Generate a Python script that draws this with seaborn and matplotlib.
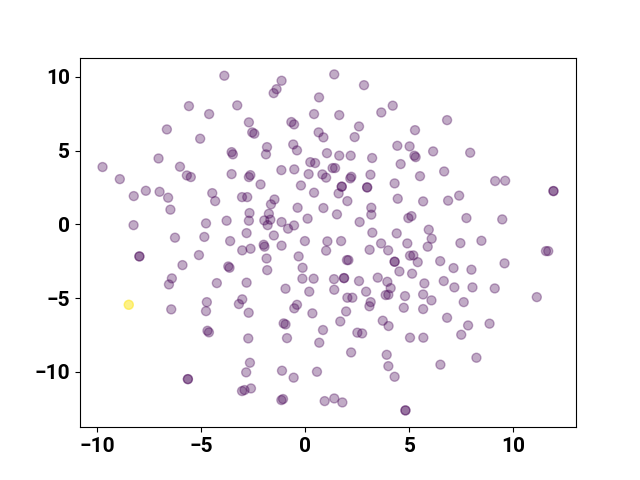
import matplotlib
matplotlib.use("Agg")
import matplotlib.pyplot as plt
import seaborn as sns
import pandas as pd

x_vals = [
    -5.59, -6.65, -5.05, -7.05, -9.74, -6.02, -5.69, -5.50, -8.91, -3.89,
    -1.14, -1.38, -1.52, 0.66, -3.27, -4.62, 0.42, -2.71, -0.67, -0.54,
    -2.55, -2.45, 0.64, 0.87, -1.84, -1.89, -0.58, -0.40, -3.54, -3.48,
    0.24, 0.47, -1.15, -0.53, -3.54, -2.64, -2.71, 0.16, 0.82, 1.00,
    1.39, 2.82, 4.20, 3.65, 1.63, 6.81, 2.58, 5.27, 2.37, 4.42,
    5.01, 6.14, 1.04, 1.63, 2.18, 3.21, 5.24, 5.30, 4.58, 6.67,
    1.31, 1.43, 3.13, 5.51, 2.21, 2.16, 7.92, 9.12, 9.60,
    -8.24, -7.66, -7.00, -6.59, -6.48, -8.25, -6.26, -7.97, -7.97, -5.11,
    -5.90, -6.41, -6.55,
    -2.15, -0.21, -4.47, -4.33, -3.04, -2.79, -1.48, -1.65, 0.42, -0.37,
    0.87, -2.68, -1.75, -3.78, -2.71, -1.97, -1.68, -1.81, -1.14, -0.83,
    -0.54, 0.11, -4.77, -4.85, -2.82, -1.51, -3.61, -0.02, 1.06, -2.00,
    -1.96, -1.14, -3.03, -2.63, 1.00, -0.32, -1.86, -3.70, -3.64, -1.83,
    -0.13, -0.14, 0.40, -4.25, -2.82, -0.95, 0.19, -4.73, -3.03, -3.19,
    4.29, 1.75, 1.75, 1.60, 2.97, 2.97, 2.02, 4.44, 5.66, 6.86,
    3.17, 3.17, 1.52, 4.95, 5.10, 2.61, 5.93, 6.07, 5.88, 3.22,
    4.39, 1.72, 3.64, 4.90, 3.09, 3.98, 5.03, 5.19, 5.40, 2.00,
    2.07, 4.29, 4.29, 6.48, 4.52, 5.13, 1.86, 1.86, 1.38, 2.58,
    3.48, 3.94, 4.10, 5.72, 6.65, 1.39, 2.92, 3.86, 3.99, 4.79,
    5.66, 2.02, 2.26, 6.06, 3.14,
    11.92, 11.92, 7.39, 7.74, 9.46, 7.45, 8.46, 11.56, 11.67, 9.57,
    7.12, 7.98, 7.16, 8.03, 9.10, 11.12, 7.61,
    -6.44, -4.77, -5.64, -5.64, -2.72, -0.40, -0.53, 0.34, -4.70, -4.63,
    -1.04, -0.95, 0.85, -2.74, -0.88, 0.67, -2.66, -2.84, -1.12, -0.56,
    0.56, -3.04, -2.92, -2.61, -1.15, -1.07, 0.93, 3.08, 1.96, 1.68,
    4.73, 5.66, 6.81, 3.72, 4.00, 2.50, 2.73, 5.03, 5.67, 2.20,
    3.91, 3.99, 4.29, 6.49, 1.39, 1.78, 4.81, 4.81, 7.82, 8.85,
    7.49, 8.22,
    -8.48, -8.48,
]

y_vals = [
    8.02, 6.44, 5.81, 4.47, 3.89, 3.91, 3.32, 3.21, 3.07, 10.08,
    9.74, 9.17, 8.90, 8.61, 8.07, 7.48, 7.48, 6.92, 6.94, 6.78,
    6.24, 6.15, 6.24, 5.90, 5.24, 4.75, 5.42, 5.02, 4.90, 4.75,
    4.22, 4.16, 3.68, 3.73, 3.41, 3.34, 3.21, 3.41, 3.39, 3.17,
    10.17, 9.44, 8.05, 7.59, 7.41, 7.07, 6.64, 6.39, 5.92, 5.33,
    5.29, 4.95, 4.83, 4.66, 4.66, 4.50, 4.66, 4.56, 4.09, 3.59,
    3.82, 3.82, 3.37, 3.27, 3.23, 3.12, 4.86, 2.94, 2.96,
    1.92, 2.28, 2.21, 1.81, 1.00, -0.05, -0.90, -2.17, -2.17, -2.08,
    -2.76, -3.66, -4.07,
    2.71, 2.64, 2.12, 1.58, 1.85, 1.85, 1.69, 1.36, 2.15, 1.13,
    1.11, 0.77, 0.72, 0.25, 0.25, 0.27, 0.32, -0.05, 0.16, -0.29,
    -0.07, 0.39, 0.07, -0.85, -0.59, -0.75, -1.13, -1.13, -1.15, -1.38,
    -1.51, -1.44, -1.76, -1.65, -1.78, -2.17, -2.31, -2.85, -2.94, -3.10,
    -2.94, -3.68, -3.68, -3.98, -3.95, -4.36, -4.56, -5.27, -5.08, -5.40,
    2.78, 2.56, 2.56, 2.10, 2.51, 2.51, 1.58, 1.74, 1.56, 1.61,
    1.13, 0.66, 0.68, 0.43, 0.56, 0.16, -0.36, -0.97, -1.51, -0.56,
    -0.61, -1.13, -1.29, -1.29, -1.72, -1.76, -2.12, -2.10, -2.56, -2.42,
    -2.42, -2.53, -2.53, -2.49, -3.19, -3.34, -3.64, -3.64, -3.71, -3.84,
    -3.61, -3.89, -4.32, -4.00, -3.84, -4.43, -4.56, -4.79, -4.77, -4.86,
    -4.75, -4.97, -4.97, -5.15, -5.27,
    2.26, 2.26, 1.95, 0.43, 0.34, -1.27, -1.11, -1.81, -1.81, -2.64,
    -2.96, -3.07, -4.27, -4.27, -4.34, -4.93, -5.27,
    -5.76, -5.88, -10.49, -10.49, -5.99, -5.45, -5.69, -6.03, -7.21, -7.32,
    -6.71, -6.78, -7.16, -7.73, -7.71, -8.02, -9.38, -10.03, -9.92, -10.39,
    -9.99, -11.30, -11.23, -11.12, -11.91, -11.84, -11.98, -5.55, -5.90, -6.58,
    -5.65, -5.74, -6.33, -6.53, -6.89, -7.34, -7.39, -7.68, -7.68, -8.68,
    -8.84, -9.61, -10.33, -9.51, -11.80, -12.07, -12.61, -12.61, -6.85, -6.73,
    -7.48, -9.04,
    -5.45, -5.45,
]

labels = [0] * (len(x_vals) - 2) + [1, 1]

df = pd.DataFrame({"x": x_vals, "y": y_vals, "label": labels})

viridis = matplotlib.colormaps["viridis"]
palette = {0: viridis(0.0), 1: viridis(1.0)}

fig, ax = plt.subplots(figsize=(6.4, 4.8), dpi=100)
sns.scatterplot(data=df, x="x", y="y", hue="label", palette=palette,
                alpha=0.33, s=42, edgecolor="face", linewidth=1.0,
                legend=False, ax=ax)
ax.set_xlabel("")
ax.set_ylabel("")
ax.set_xticks([-10, -5, 0, 5, 10])
ax.set_yticks([-10, -5, 0, 5, 10])
for lab in ax.get_xticklabels() + ax.get_yticklabels():
    lab.set_fontfamily("Roboto")
    lab.set_fontweight("bold")
    lab.set_fontsize(15)
fig.savefig("out.png", dpi=100)
